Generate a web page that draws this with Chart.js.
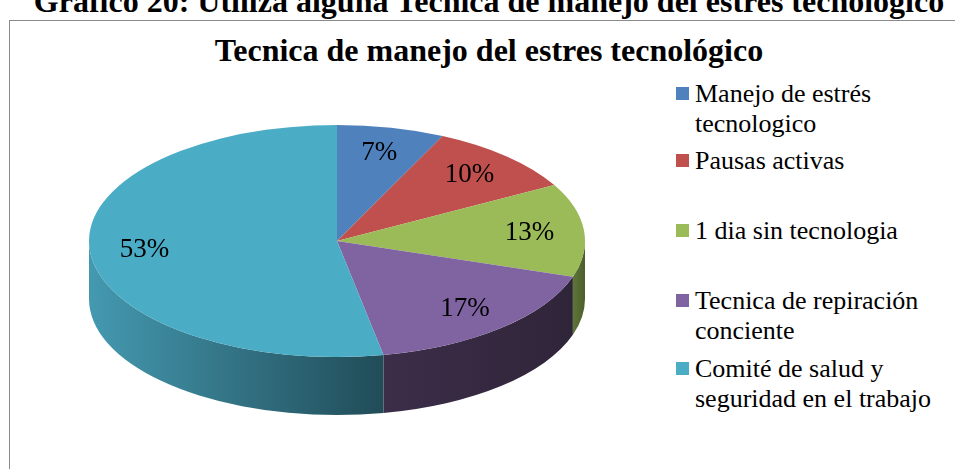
<!DOCTYPE html>
<html lang="es">
<head>
<meta charset="utf-8">
<title>Tecnica de manejo del estres tecnológico</title>
<script src="https://cdn.jsdelivr.net/npm/chart.js@4.4.1/dist/chart.umd.min.js"></script>
<style>
  body { margin: 0; width: 955px; height: 469px; overflow: hidden; background: #fff; position: relative;
         font-family: "Liberation Serif", "Times New Roman", serif; color: #000; }
  #encabezado { position: absolute; left: 0; top: -15px; width: 978px; text-align: center; white-space: nowrap;
                font-size: 32px; font-weight: bold; line-height: 32px; }
  #marco { position: absolute; left: 9px; top: 20px; width: 960px; height: 470px; box-sizing: border-box;
           border: 1px solid #8a8a8a; }
  #titulo { position: absolute; left: 0; top: 32px; width: 978px; text-align: center; white-space: nowrap;
            font-size: 32px; font-weight: bold; line-height: 36px; }
  #grafico { position: absolute; left: 0; top: 0; width: 674px; height: 469px; }
  .item { position: absolute; left: 676px; width: 270px; }
  .cuadro { position: absolute; left: 0; top: 8px; width: 13px; height: 13px; }
  .texto { margin-left: 19px; font-size: 26px; line-height: 30px; }
</style>
</head>
<body>
<div id="encabezado">Gráfico 20: Utiliza alguna Tecnica de manejo del estres tecnologico</div>
<div id="marco"></div>
<div id="titulo">Tecnica de manejo del estres tecnológico</div>
<div id="grafico"><canvas id="graficoTecnicas" width="674" height="469"></canvas></div>
<div id="leyenda"></div>

<script>
// Datos del gráfico
const categorias = ["Manejo de estrés tecnologico", "Pausas activas", "1 dia sin tecnologia",
                    "Tecnica de repiración conciente", "Comité de salud y seguridad en el trabajo"];
const porcentajes = [7, 10, 13, 17, 53];

// Colores de cada sección (cara superior y pared lateral)
const colores = ['#4F81BD', '#C0504D', '#9BBB59', '#8064A2', '#4BACC6'];
const paredClaro = ['#2f4f75', '#773230', '#5f7637', '#3c2d49', '#4499b0'];
const paredOscuro = ['#263f5e', '#5f2826', '#4c5e2c', '#2f2539', '#214c58'];

// Posición vertical de cada elemento de la leyenda
const posLeyenda = [79, 146, 216, 286, 354];

const inclinacion = 0.468; // relación alto/ancho de la elipse
const grosor = 58;         // alto de la pared lateral

// Plugin para dar aspecto 3D al pastel
const pastel3d = {
    id: 'pastel3d',
    beforeDatasetsDraw(chart) {
        const ctx = chart.ctx;
        const arcos = chart.getDatasetMeta(0).data;
        const cx = arcos[0].x, cy = arcos[0].y;
        const rx = arcos[0].outerRadius, ry = rx * inclinacion;

        // Paredes laterales (solo la mitad frontal es visible)
        arcos.forEach((arco, i) => {
            const a1 = Math.max(arco.startAngle, 0);
            const a2 = Math.min(arco.endAngle, Math.PI);
            if (a2 <= a1) return;
            const xIzq = cx + rx * Math.cos(a2);
            const xDer = cx + rx * Math.cos(a1);
            const grad = ctx.createLinearGradient(xIzq, 0, xDer, 0);
            grad.addColorStop(0, paredClaro[i]);
            grad.addColorStop(1, paredOscuro[i]);
            ctx.beginPath();
            ctx.ellipse(cx, cy, rx, ry, 0, a1, a2);
            ctx.ellipse(cx, cy + grosor, rx, ry, 0, a2, a1, true);
            ctx.closePath();
            ctx.fillStyle = grad;
            ctx.fill();
        });

        // Aplastar la cara superior
        ctx.save();
        ctx.translate(cx, cy);
        ctx.scale(1, inclinacion);
        ctx.translate(-cx, -cy);
    },
    afterDatasetsDraw(chart) {
        chart.ctx.restore();
    }
};

// Plugin para escribir los porcentajes sobre cada sección
const etiquetas = {
    id: 'etiquetas',
    afterDatasetsDraw(chart) {
        const ctx = chart.ctx;
        const arcos = chart.getDatasetMeta(0).data;
        ctx.save();
        ctx.font = '27px "Liberation Serif", "Times New Roman", serif';
        ctx.fillStyle = '#000';
        ctx.textAlign = 'center';
        ctx.textBaseline = 'middle';
        arcos.forEach((arco, i) => {
            const medio = (arco.startAngle + arco.endAngle) / 2;
            const r = arco.outerRadius * 0.78;
            const x = arco.x + r * Math.cos(medio);
            const y = arco.y + r * inclinacion * Math.sin(medio);
            ctx.fillText(porcentajes[i] + '%', x, y);
        });
        ctx.restore();
    }
};

const ctx = document.getElementById("graficoTecnicas").getContext("2d");
const graficoTecnicas = new Chart(ctx, {
    type: 'pie',
    data: {
        labels: categorias,
        datasets: [{
            data: porcentajes,
            backgroundColor: colores,
            borderWidth: 0,
            radius: 248,
            clip: false
        }]
    },
    options: {
        responsive: false,
        animation: false,
        layout: { padding: { top: 13, bottom: 0, left: 0, right: 0 } },
        plugins: {
            legend: { display: false },
            tooltip: { enabled: false }
        }
    },
    plugins: [pastel3d, etiquetas]
});

// Leyenda en HTML (permite texto en varias líneas)
const leyenda = document.getElementById("leyenda");
categorias.forEach((nombre, i) => {
    const item = document.createElement("div");
    item.className = "item";
    item.style.top = posLeyenda[i] + "px";
    item.innerHTML = `<span class="cuadro" style="background:${colores[i]}"></span><div class="texto">${nombre}</div>`;
    leyenda.appendChild(item);
});
</script>
</body>
</html>
